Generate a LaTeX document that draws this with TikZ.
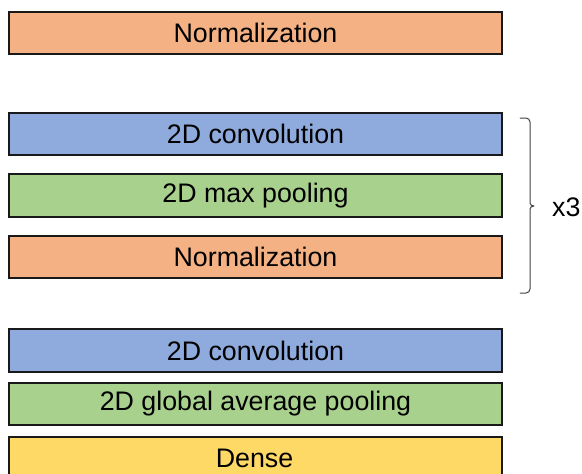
\documentclass[tikz,border=0pt]{standalone}
\usepackage{fontspec}
\setmainfont{Liberation Sans}
\definecolor{cOrange}{HTML}{F4B183}
\definecolor{cBlue}{HTML}{8FAADC}
\definecolor{cGreen}{HTML}{A9D18E}
\definecolor{cYellow}{HTML}{FFD966}
\definecolor{cBrace}{HTML}{404040}
\begin{document}
\begin{tikzpicture}[x=1pt,y=-1pt,
  layer/.style={draw=black!90, line width=2pt, minimum width=493pt, inner sep=0pt, anchor=north west},
  lbl/.style={font=\fontsize{26.8}{30}\selectfont}]
\useasboundingbox (0,0) rectangle (582,474);
\begin{scope}
\clip (0,0) rectangle (582,474);
\node[layer, fill=cOrange, minimum height=42pt] (n1) at (8,11) {};
\node[layer, fill=cBlue, minimum height=42pt] (c1) at (8,112) {};
\node[layer, fill=cGreen, minimum height=43pt] (p1) at (8,173) {};
\node[layer, fill=cOrange, minimum height=42pt] (n2) at (8,235) {};
\node[layer, fill=cBlue, minimum height=43pt] (c2) at (8,328) {};
\node[layer, fill=cGreen, minimum height=42pt] (g1) at (8,382) {};
\node[layer, fill=cYellow, minimum height=42pt] (d1) at (8,436) {};
\end{scope}
\node[lbl] (t1) at (n1.center) {Normalization};
\node[lbl] (t2) at (c1.center) {2D convolution};
\node[lbl] (t3) at (p1.center) {2D max pooling};
\node[lbl] (t4) at (n2.center) {Normalization};
\node[lbl] (t5) at (c2.center) {2D convolution};
\node[lbl] (t6) at (g1.center) {2D global average pooling};
\node[lbl] (t7) at (254.5,458) {Dense};
\coordinate (bt) at (520,118);
\coordinate (bb) at (520,293);
\coordinate (bm) at (534,206);
\draw[cBrace, line width=1pt, line cap=round]
  (bt) -- ++(6,0) to[out=0,in=90] ++(4,4) -- (530,203) to[out=270,in=180] (bm)
  (bm) to[out=180,in=90] (530,209) -- (530,289) to[out=270,in=0] ++(-4,4) -- (bb);
\node[lbl, anchor=west, inner sep=0pt] (x3) at (552,207) {x3};
\end{tikzpicture}
\end{document}
